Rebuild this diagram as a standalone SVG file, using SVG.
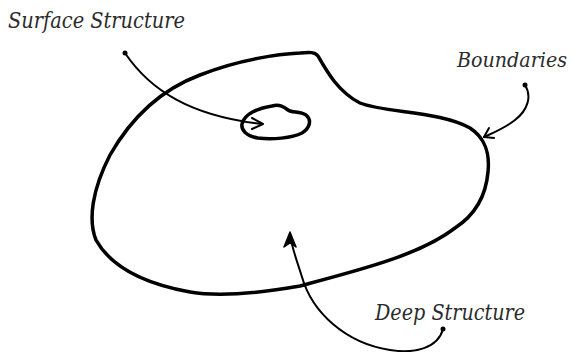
<svg xmlns="http://www.w3.org/2000/svg" width="573" height="352" viewBox="0 0 573 352">
<style>
.lbl{font-family:"DejaVu Serif","Liberation Serif",serif;font-style:italic;font-size:22px;fill:#2b2b2b}
.shape{fill:none;stroke:#000;stroke-width:3.5;stroke-linecap:round;stroke-linejoin:round}
.conn{fill:none;stroke:#000;stroke-width:2;stroke-linecap:round;stroke-linejoin:round}
.dot{fill:#000}
</style>
<rect width="573" height="352" fill="#fff"/>
<g id="deep-structure-boundary">
<path class="shape" d="M300,53 C310,52 315,52 318,56 C326,70 338,92 360,103 C385,113 440,111 470,128 C485,138 490,152 488,172 C486,195 475,215 455,228 C420,255 360,270 300,286 C260,293 220,297 190,292 C140,283 110,265 96,240 C88,220 92,190 110,155 C130,120 160,90 200,75 C240,59 280,54 300,53 Z"/>
</g>
<g id="surface-structure-blob">
<path class="shape" d="M242,124 C244,114 258,108 272,106 C280,104 284,107 288,110 C292,113 300,111 306,115 C312,120 310,128 302,133 C292,138 272,140 258,138 C246,136 241,130 242,124 Z"/>
</g>
<g id="connectors">
<path class="conn" d="M125,53 C150,90 190,116 262,124"/>
<path class="conn" d="M252,118 L263,124 L252,129"/>
<circle class="dot" cx="125" cy="53" r="2.5"/>
<path class="conn" d="M525,85 C532,96 528,110 515,120 C505,128 495,132 484,137"/>
<path class="conn" d="M489,128 L484,137 L494,138"/>
<circle class="dot" cx="525" cy="85" r="2.5"/>
<path class="conn" d="M443,329 C438,348 415,354 390,350 C345,343 312,312 302,277 C296,258 291,245 290,234"/>
<path d="M290,232 L284,247 L290,243 L296,247 Z" fill="#000" stroke="#000" stroke-width="1.5" stroke-linejoin="round"/>
<circle class="dot" cx="443" cy="329" r="2.5"/>
</g>
<g id="label-surface"><text class="lbl" x="8" y="28" textLength="177" lengthAdjust="spacingAndGlyphs">Surface Structure</text></g>
<g id="label-boundaries"><text class="lbl" x="457" y="67" style="font-size:20px" textLength="110" lengthAdjust="spacingAndGlyphs">Boundaries</text></g>
<g id="label-deep"><text class="lbl" x="375" y="320" textLength="150" lengthAdjust="spacingAndGlyphs">Deep Structure</text></g>
</svg>
